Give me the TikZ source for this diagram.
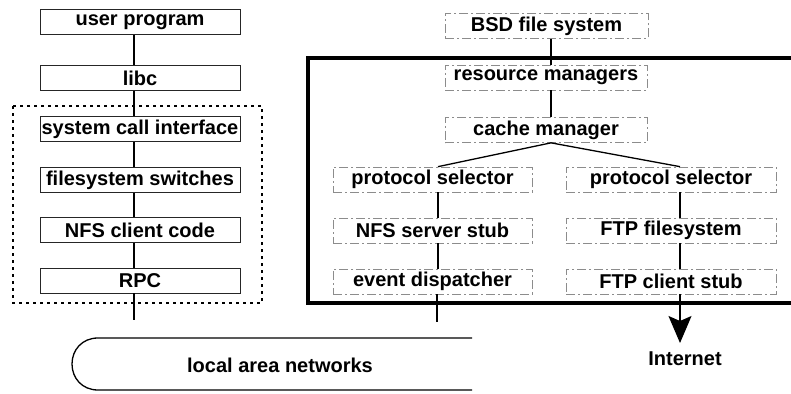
\documentclass[tikz,border=0pt]{standalone}
\usepackage{fontspec}
\setmainfont{Liberation Sans}
\usetikzlibrary{arrows.meta}
\begin{document}
\begin{tikzpicture}[x=1pt,y=-1pt,
  txt/.style={font=\fontsize{20}{23}\selectfont\bfseries},
  lbox/.style={txt, draw=black!85, line width=0.8pt, minimum width=200pt, minimum height=25pt, inner sep=0pt},
  rbox/.style={txt, draw=black!45, line width=0.7pt, dash pattern=on 9pt off 3pt on 2pt off 3pt, minimum height=25pt, inner sep=0pt},
  conn/.style={line width=1.3pt},
  dotbox/.style={line width=1.5pt, dash pattern=on 3pt off 4pt},
  thickbox/.style={line width=4pt},
]
\useasboundingbox (0,0) rectangle (791,393);

% left column
\node[lbox] (up)  at (140,22)  {user program};
\node[lbox] (lc)  at (140,78)  {libc};
\node[lbox] (sci) at (140,129) {system call interface};
\node[lbox] (fss) at (140,180) {filesystem switches};
\node[lbox] (nfc) at (140,230) {NFS client code};
\node[lbox] (rpc) at (140,280.5) {RPC};
\coordinate (rpcend) at (134,320);

\draw[dotbox] (13,106) rectangle (262,303);

\draw[conn] ([xshift=-6]up.south) -- ([xshift=-6]lc.north);
\draw[conn] ([xshift=-6]lc.south) -- ([xshift=-6]sci.north);
\draw[conn] ([xshift=-6]sci.south) -- ([xshift=-6]fss.north);
\draw[conn] ([xshift=-6]fss.south) -- ([xshift=-6]nfc.north);
\draw[conn] ([xshift=-6]nfc.south) -- ([xshift=-6]rpc.north);
\draw[conn] ([xshift=-6]rpc.south) -- (rpcend);

% local area networks
\draw[line width=1.3pt] (472,338) -- (98,338)
  .. controls (82,338) and (72,350) .. (72,364)
  .. controls (72,378) and (82,390) .. (98,390) -- (472,390);
\node[txt] (lan) at (280,365) {local area networks};

% thick box
\draw[thickbox] (795,58) -- (308,58) -- (308,303) -- (795,303);

% right part
\node[rbox, minimum width=203pt] (bsd) at (546.5,26)  {BSD file system};
\node[rbox, minimum width=202pt] (rm)  at (546,77.5)  {resource managers};
\node[rbox, minimum width=202pt] (cm)  at (546,130)   {cache manager};
\node[rbox, minimum width=199pt] (ps1) at (432.5,179.5) {protocol selector};
\node[rbox, minimum width=199pt] (nss) at (432.5,230.5) {NFS server stub};
\node[rbox, minimum width=199pt] (ed)  at (432.5,281.5) {event dispatcher};
\node[rbox, minimum width=210pt] (ps2) at (671,179.5) {protocol selector};
\node[rbox, minimum width=210pt] (ftf) at (671,230.5) {FTP filesystem};
\node[rbox, minimum width=210pt] (ftc) at (671,281.5) {FTP client stub};
\coordinate (edend) at (437,322);
\coordinate (tip) at (680,343);
\node[txt] (inet) at (685,359) {Internet};

\draw[conn] ([xshift=4.5]bsd.south) -- ([xshift=5]rm.north);
\draw[conn] ([xshift=5]rm.south) -- ([xshift=5]cm.north);
\draw[conn] ([xshift=5]cm.south) -- ([xshift=5.5]ps1.north);
\draw[conn] ([xshift=5]cm.south) -- ([xshift=9]ps2.north);
\draw[conn] ([xshift=5.5]ps1.south) -- ([xshift=5.5]nss.north);
\draw[conn] ([xshift=5.5]nss.south) -- ([xshift=5.5]ed.north);
\draw[conn] ([xshift=4.5]ed.south) -- (edend);
\draw[conn] ([xshift=9]ps2.south) -- ([xshift=9]ftf.north);
\draw[conn] ([xshift=9]ftf.south) -- ([xshift=9]ftc.north);
\draw[conn, -{Stealth[length=27pt,width=23pt,inset=5pt]}] ([xshift=9]ftc.south) -- (tip);
\end{tikzpicture}
\end{document}
